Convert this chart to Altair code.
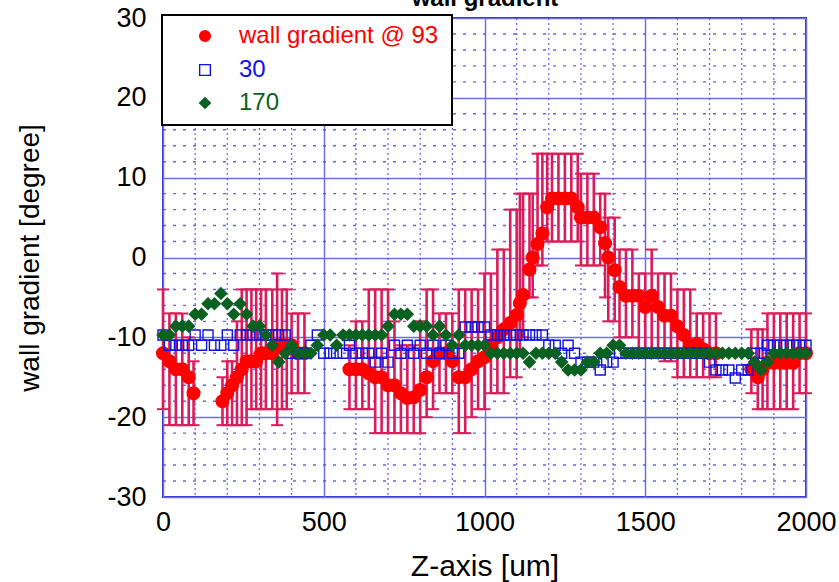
import altair as alt
import pandas as pd

FONT = "Liberation Sans"

# ---------------- data ----------------
red_name = "wall gradient @ 93"
blue_name = "30"
green_name = "170"

x_red = [0, 20, 40, 60, 80, 95,
         185, 200, 215, 230, 245, 260, 275, 290, 305, 320, 340, 355, 370, 385, 400, 420, 440,
         580, 600, 620, 640, 660, 680, 700, 720, 740, 760, 780, 800, 820, 840, 860, 880, 900,
         920, 940, 960, 980, 1000, 1020, 1040, 1060, 1080, 1100, 1110, 1120, 1140, 1150, 1165,
         1180, 1195, 1210, 1230, 1250, 1270, 1290, 1300, 1320, 1340, 1360, 1375, 1385, 1405,
         1420, 1440, 1460, 1480, 1500, 1520, 1540, 1560, 1580, 1600, 1620, 1640, 1660, 1680,
         1700, 1720,
         1830, 1850, 1865, 1880, 1900, 1920, 1940, 1960, 1980, 2000]
y_red = [-12, -13, -14, -14, -15, -17,
         -18, -17, -16, -15, -14, -13, -13, -13, -12, -12, -12, -11, -11, -11, -11, -12, -12,
         -14, -14, -14, -14.5, -15, -15, -16, -16, -17, -17.6, -17.5, -16.6, -15, -13, -12, -12, -13,
         -15, -15, -14, -13, -12.5, -11, -10, -9, -8.2, -7.2, -5.7, -4.7, -1.5, 0, 1.7,
         3, 6.3, 7.4, 7.4, 7.4, 7.4, 6.3, 5, 5, 5, 3.8, 1.8, 0, -1.6,
         -3.7, -4.8, -4.8, -4.8, -6.2, -4.8, -6.2, -7.3, -7.3, -8.6, -9.7, -11, -10.8, -11.5,
         -12, -12,
         -14, -15, -14, -13.2, -13.2, -13.2, -13.2, -13.2, -12, -12]
lo_red = [-19, -21, -21, -21, -21, -21,
          -21, -21, -21, -21, -21, -21, -19, -19, -19, -19, -19, -21, -19, -19, -17, -17, -17,
          -19, -19, -19, -19, -22, -22, -22, -22, -22, -22, -22, -22, -20, -19, -17, -17, -17,
          -22, -22, -20, -19, -19, -17, -17, -17, -15, -15, -12, -10, -5, -5, -1,
          -1, 2, 2, 2, 2, 2, 2, -1, -1, -1, -1, -5, -8, -8,
          -10, -10, -10, -12, -12, -12, -12, -13, -13, -15, -15, -15, -15, -15,
          -15, -15,
          -17, -19, -19, -19, -19, -19, -19, -19, -17, -17]
hi_red = [-4, -7, -7, -7, -10, -13,
          -15, -13, -13, -8, -4, -4, -4, -4, -4, -4, -4, -2, -4, -4, -7, -7, -7,
          -11, -8, -8, -4, -4, -4, -4, -8, -11, -11, -11, -8, -4, -4, -7, -7, -7,
          -4, -4, -4, -4, -2, -2, 1, 1, 6, 6, 8, 8, 8, 8, 13,
          13, 13, 13, 13, 13, 13, 13, 10.5, 10.5, 10.5, 8, 8, 5, 5,
          1, 1, 1, -2, -2, 1, -2, -2, -2, -4, -4, -4, -7, -7,
          -7, -7,
          -9, -9, -9, -7, -7, -7, -7, -7, -7, -7]

x_step = list(range(0, 2001, 20))
y_blue = [-9.7, -11, -11, -11, -11, -9.7, -11, -9.7, -11, -11,
          -9.7, -11, -9.7, -9.7, -9.7, -9.7, -9.7, -9.7, -9.7, -9.7,
          -12, -12, -12, -11, -9.7, -12, -12, -12, -12, -11,
          -12, -12, -12, -13.1, -12, -13.1, -11, -12, -11, -12,
          -11, -12, -11, -12, -11, -12, -12, -8.7, -8.7, -8.7,
          -8.7, -9.7, -9.7, -9.7, -9.7, -9.7, -9.7, -9.7, -9.7, -9.7,
          -11, -11, -12, -11, -12, -13.1, -13.1, -13.1, -14.1, -13.1,
          -13.1, -12, -12, -12, -12, -12, -12, -12, -12, -12,
          -12, -12, -12, -12, -12, -13.1, -14.1, -14.1, -14.1, -15.1,
          -14.1, -14.1, -12, -12, -11, -11, -11, -11, -11, -11,
          -11]
y_green = [-9.7, -9.7, -8.6, -8.6, -8.6, -7.1, -7.1, -5.8, -5.8, -4.5,
           -5.8, -7.1, -5.8, -7.1, -8.6, -8.6, -9.7, -11, -13.1, -12,
           -11, -12, -12, -12, -11, -9.7, -9.7, -11, -9.7, -9.7,
           -9.7, -9.7, -9.7, -9.7, -9.7, -8.6, -7.1, -7.1, -7.1, -8.6,
           -8.6, -8.6, -9.7, -8.6, -9.7, -11, -9.7, -11, -11, -11,
           -11, -12, -12, -12, -12, -12, -12, -13.1, -12, -12,
           -12, -12, -13.1, -14.1, -14.1, -14.1, -13.1, -13.1, -12, -12,
           -11, -11, -12, -12, -12, -12, -12, -12, -12, -12,
           -12, -12, -12, -12, -12, -12, -12, -12, -12, -12,
           -12, -12, -13.1, -14.1, -13.1, -12, -12, -12, -12, -12,
           -12]

x_ticks = [0, 500, 1000, 1500, 2000]
y_ticks = [-30, -20, -10, 0, 10, 20, 30]
x_minor = [100, 200, 300, 400, 600, 700, 800, 900, 1100, 1200, 1300, 1400,
           1600, 1700, 1800, 1900]
y_minor = [-28, -26, -24, -22, -18, -16, -14, -12, -8, -6, -4, -2,
           2, 4, 6, 8, 12, 14, 16, 18, 22, 24, 26, 28]

RED, BLUE, GREEN = "#ff0000", "#1010e8", "#0b6121"
bar_color = "#dc1c5a"

# ---------------- tables ----------------
red_df = pd.DataFrame({"x": x_red, "y": y_red, "lo": lo_red, "hi": hi_red, "series": red_name})
blue_df = pd.DataFrame({"x": x_step, "y": y_blue, "series": blue_name})
green_df = pd.DataFrame({"x": x_step, "y": y_green, "series": green_name})

xscale = alt.Scale(domain=[0, 2000], nice=False, zero=False)
yscale = alt.Scale(domain=[-30, 30], nice=False, zero=False)

num_label = "datum.value < 0 ? '-' + abs(datum.value) : '' + datum.value"

xaxis = alt.Axis(title="Z-axis [um]", values=x_ticks, grid=True, gridColor="#6f6fe4",
                 gridWidth=1.5, ticks=False, domain=False, labelFontSize=27, labelFont=FONT,
                 labelColor="black", labelPadding=12, labelFlush=False, labelOverlap=False,
                 labelBound=False, labelExpr=num_label,
                 titleFontSize=30, titleFont=FONT, titleFontWeight="normal", titleColor="black",
                 titleX=321.5, titleY=78, titleAlign="center", titleBaseline="alphabetic")
top_axis = alt.Axis(orient="top", title="wall gradient", labels=False, ticks=False,
                    domain=False, grid=False, titleFontSize=24, titleFont=FONT,
                    titleFontWeight="bold", titleColor="black", titleX=321.5, titleY=-13,
                    titleAlign="center", titleBaseline="alphabetic")
yaxis = alt.Axis(title="wall gradient [degree]", values=y_ticks, grid=True, gridColor="#6f6fe4",
                 gridWidth=1.5, ticks=False, domain=False, labelFontSize=27, labelFont=FONT,
                 labelColor="black", labelPadding=17, labelFlush=False, labelOverlap=False,
                 labelBound=False, labelBaseline="middle", labelExpr=num_label,
                 titleFontSize=28, titleFont=FONT, titleFontWeight="normal", titleColor="black",
                 titleX=-133, titleY=239.5, titleAngle=270, titleAlign="center",
                 titleBaseline="middle")


def X(f, axis=None):
    return alt.X(f, type="quantitative", scale=xscale, axis=axis)


def Y(f):
    return alt.Y(f, type="quantitative", scale=yscale, axis=yaxis)


minor_x = alt.Chart(pd.DataFrame({"v": x_minor})).mark_rule(
    color="#4a4ae0", strokeWidth=1.2, strokeDash=[2, 3], opacity=0.85
).encode(x=X("v", top_axis))
minor_y = alt.Chart(pd.DataFrame({"v": y_minor})).mark_rule(
    color="#4a4ae0", strokeWidth=1.4, strokeDash=[3, 7], opacity=0.85
).encode(y=Y("v"))

bars = alt.Chart(red_df).mark_rule(color=bar_color, strokeWidth=2.6).encode(
    x=X("x"), y=Y("lo"), y2="hi")
cap_lo = alt.Chart(red_df).mark_tick(color=bar_color, thickness=2, size=12,
                                     orient="horizontal", opacity=1).encode(x=X("x"), y=Y("lo"))
cap_hi = alt.Chart(red_df).mark_tick(color=bar_color, thickness=2, size=12,
                                     orient="horizontal", opacity=1).encode(x=X("x"), y=Y("hi"))

# opaque legend frame (the entries are drawn by the three legends on top of it)
legend_box = alt.Chart(pd.DataFrame({"k": [0]})).mark_rect(
    fill="white", stroke="black", strokeWidth=2
).encode(x=alt.value(-1), x2=alt.value(289), y=alt.value(-3), y2=alt.value(107))


def series_layer(df, name, shape, stroke, fill, size, leg_y, label_color, axis=None):
    leg = alt.Legend(title=None, legendY=leg_y, labelColor=label_color)
    return alt.Chart(df).mark_point(opacity=1, strokeWidth=1.4, size=size).encode(
        x=X("x", axis), y=Y("y"),
        shape=alt.Shape("series:N", scale=alt.Scale(domain=[name], range=[shape]), legend=leg),
        stroke=alt.Stroke("series:N", scale=alt.Scale(domain=[name], range=[stroke]), legend=leg),
        fill=alt.Fill("series:N", scale=alt.Scale(domain=[name], range=[fill]), legend=leg),
    )


red_pts = series_layer(red_df, red_name, "circle", RED, RED, 160, 6, RED, xaxis)
blue_pts = series_layer(blue_df, blue_name, "square", BLUE, "transparent", 100, 40, BLUE)
green_pts = series_layer(green_df, green_name, "diamond", GREEN, GREEN, 135, 73, GREEN)

chart = alt.layer(minor_x, minor_y, bars, cap_lo, cap_hi, red_pts, blue_pts, green_pts,
                  legend_box).resolve_axis(
    x="independent"
).resolve_scale(
    shape="independent", stroke="independent", fill="independent"
).resolve_legend(
    shape="independent", stroke="independent", fill="independent"
).properties(
    width=643, height=479,
    autosize=alt.AutoSizeParams(type="none"),
    padding={"left": 163, "top": 18, "right": 33, "bottom": 85},
    background="white",
).configure_view(
    stroke="#2a2ad4", strokeWidth=2
).configure_legend(
    orient="none", legendX=5, padding=0,
    labelFontSize=24, labelFont=FONT, labelLimit=400,
    symbolOffset=25, labelOffset=22, rowPadding=0, symbolSize=115,
    symbolStrokeWidth=1.4
)

chart.save("out.html", embed_options={"renderer": "svg", "actions": False})
